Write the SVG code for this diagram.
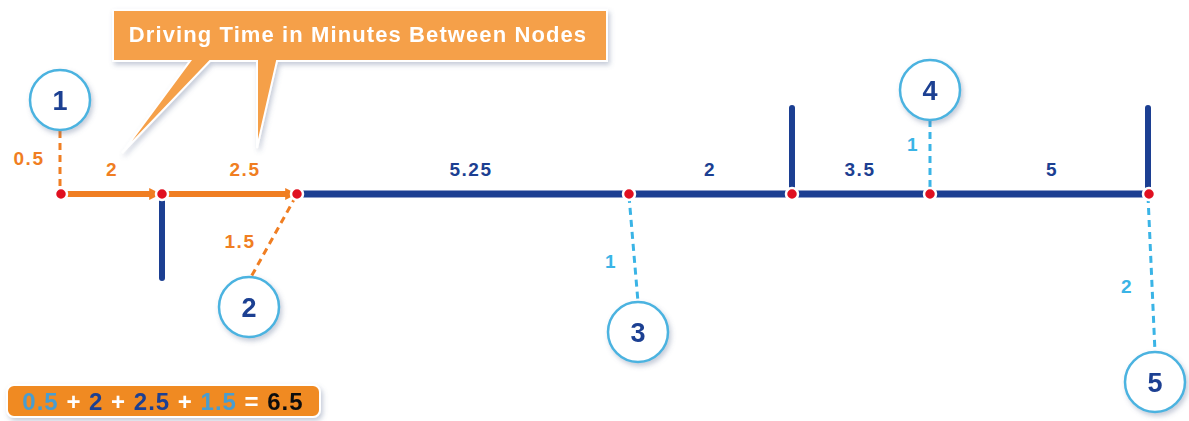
<svg xmlns="http://www.w3.org/2000/svg" width="1189" height="421" viewBox="0 0 1189 421">
<defs>
<filter id="sh" x="-30%" y="-30%" width="160%" height="160%"><feDropShadow dx="2" dy="3" stdDeviation="2.5" flood-color="#5a6a90" flood-opacity="0.35"/></filter>
<marker id="ah" viewBox="0 0 10 10" refX="9" refY="5" markerWidth="2.1" markerHeight="2" orient="auto" markerUnits="strokeWidth"><path d="M0,0 L10,5 L0,10 z" fill="#f07e22"/></marker>
<style>
.road{stroke:#1c3f92;stroke-width:7;stroke-linecap:round;fill:none}
.stub{stroke:#1c3f92;stroke-width:6;stroke-linecap:round;fill:none}
.orng{stroke:#f07e22;stroke-width:6;fill:none}
.dO{stroke:#f07e22;stroke-width:3;stroke-dasharray:7 5;fill:none}
.dB{stroke:#3ab4e6;stroke-width:3;stroke-dasharray:7 5;fill:none}
.dot{fill:#e01020;stroke:#fff;stroke-width:2.5}
.circ{fill:#fff;stroke:#4cb3e0;stroke-width:2.5}
.num{font-family:"Liberation Sans",Arial,sans-serif;font-weight:bold;font-size:27px;fill:#1c3f92;text-anchor:middle}
.lbl{font-family:"Liberation Sans",Arial,sans-serif;font-weight:bold;font-size:19px;letter-spacing:1.5px;text-anchor:middle}
.o{fill:#f07e22}.b{fill:#1c3f92}.l{fill:#3ab4e6}
</style>
</defs>
<rect width="1189" height="421" fill="#fff"/>
<g id="callout" filter="url(#sh)">
<path d="M113,10 H607 V61 H277 L257,148 L257,61 H210 L122,153 L190,61 H113 Z" fill="#f5a04a" stroke="#fff" stroke-width="2"/>
<text x="358" y="42" font-family="Liberation Sans,Arial,sans-serif" font-weight="bold" font-size="22" letter-spacing="1.1" fill="#fff" text-anchor="middle">Driving Time in Minutes Between Nodes</text>
</g>
<g id="connectors">
<line class="road" x1="297" y1="194" x2="1149" y2="194"/>
<line class="stub" x1="162" y1="194" x2="162" y2="278"/>
<line class="stub" x1="792" y1="194" x2="792" y2="108"/>
<line class="stub" x1="1148" y1="194" x2="1148" y2="108"/>
<line class="orng" x1="61" y1="194" x2="160" y2="194" marker-end="url(#ah)"/>
<line class="orng" x1="162" y1="194" x2="296" y2="194" marker-end="url(#ah)"/>
<line class="dO" x1="60" y1="131" x2="60" y2="192"/>
<line class="dO" x1="296" y1="196" x2="251" y2="277"/>
<line class="dB" x1="629" y1="196" x2="638" y2="302"/>
<line class="dB" x1="930" y1="120" x2="930" y2="192"/>
<line class="dB" x1="1148" y1="196" x2="1155" y2="352"/>
<text class="lbl o" x="29" y="165">0.5</text>
<text class="lbl o" x="112" y="176">2</text>
<text class="lbl o" x="245" y="176">2.5</text>
<text class="lbl o" x="240" y="248">1.5</text>
<text class="lbl b" x="471" y="176">5.25</text>
<text class="lbl b" x="710" y="176">2</text>
<text class="lbl b" x="860" y="176">3.5</text>
<text class="lbl b" x="1052" y="176">5</text>
<text class="lbl l" x="611" y="268">1</text>
<text class="lbl l" x="913" y="151">1</text>
<text class="lbl l" x="1127" y="293">2</text>
</g>
<g id="junctions">
<circle class="dot" cx="61" cy="194" r="6"/>
<circle class="dot" cx="162" cy="194" r="6"/>
<circle class="dot" cx="297" cy="194" r="6"/>
<circle class="dot" cx="629" cy="194" r="6"/>
<circle class="dot" cx="792" cy="194" r="6"/>
<circle class="dot" cx="930" cy="194" r="6"/>
<circle class="dot" cx="1149" cy="194" r="6"/>
</g>
<g id="node1" filter="url(#sh)"><circle class="circ" cx="60" cy="100" r="30"/><text class="num" x="60" y="110">1</text></g>
<g id="node2" filter="url(#sh)"><circle class="circ" cx="249" cy="307" r="30"/><text class="num" x="249" y="317">2</text></g>
<g id="node3" filter="url(#sh)"><circle class="circ" cx="638" cy="332" r="30"/><text class="num" x="638" y="342">3</text></g>
<g id="node4" filter="url(#sh)"><circle class="circ" cx="930" cy="90" r="30"/><text class="num" x="930" y="100">4</text></g>
<g id="node5" filter="url(#sh)"><circle class="circ" cx="1155" cy="382" r="30"/><text class="num" x="1155" y="392">5</text></g>
<g id="sum" filter="url(#sh)">
<rect x="7" y="385" width="313" height="32" rx="7" fill="#f08a22" stroke="#fff" stroke-width="2"/>
<text x="163" y="410" font-family="Liberation Sans,Arial,sans-serif" font-weight="bold" font-size="24" letter-spacing="1" text-anchor="middle"><tspan fill="#4a9dd0">0.5</tspan><tspan fill="#fff"> + </tspan><tspan fill="#1c3f92">2</tspan><tspan fill="#fff"> + </tspan><tspan fill="#1c3f92">2.5</tspan><tspan fill="#fff"> + </tspan><tspan fill="#4a9dd0">1.5</tspan><tspan fill="#fff"> = </tspan><tspan fill="#111">6.5</tspan></text>
</g>
</svg>
